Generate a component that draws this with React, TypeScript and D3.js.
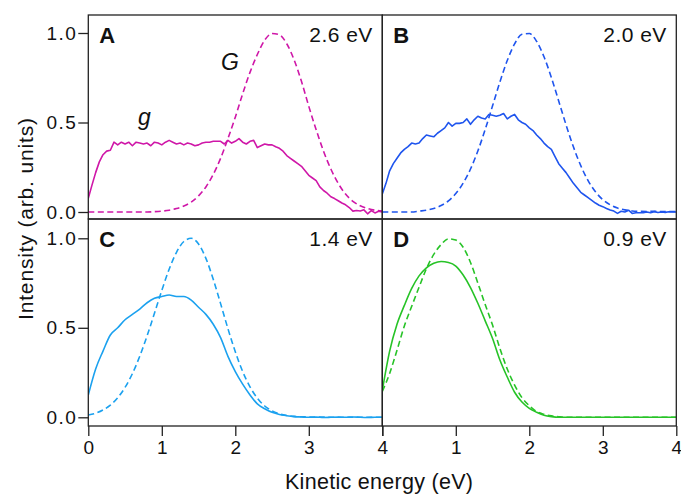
import React, { useEffect, useRef } from 'react'
import * as d3 from 'd3'

// kinetic energy grids (eV)
const energyFine = d3.range(81).map(i => +(i * 0.05).toFixed(2))
const energyCoarse = d3.range(41).map(i => +(i * 0.1).toFixed(1))

// measured electron distributions g (solid) and G (dashed)
const gA = [
  0.077, 0.15, 0.22, 0.28, 0.32, 0.34, 0.345, 0.39, 0.375, 0.39,
  0.38, 0.39, 0.37, 0.39, 0.385, 0.38, 0.385, 0.37, 0.39, 0.385,
  0.375, 0.39, 0.40, 0.39, 0.38, 0.385, 0.375, 0.385, 0.38, 0.37,
  0.375, 0.385, 0.39, 0.39, 0.395, 0.395, 0.395, 0.38, 0.40, 0.385,
  0.395, 0.41, 0.39, 0.38, 0.395, 0.40, 0.36, 0.37, 0.38, 0.375,
  0.375, 0.365, 0.356, 0.34, 0.315, 0.30, 0.285, 0.27, 0.255, 0.23,
  0.205, 0.19, 0.175, 0.14, 0.12, 0.105, 0.085, 0.075, 0.063, 0.05,
  0.04, 0.025, 0.005, 0.008, 0.006, 0.012, -0.01, 0.008, -0.005, 0.004,
  0.0
]
const GA = [
  0, 0, 0, 0, 0, 0, 0, 0, 0, 0.002,
  0.005, 0.01, 0.019, 0.033, 0.055, 0.09, 0.14, 0.21, 0.30, 0.41,
  0.53, 0.66, 0.78, 0.88, 0.96, 0.997, 0.99, 0.94, 0.85, 0.73,
  0.59, 0.46, 0.34, 0.24, 0.16, 0.10, 0.06, 0.035, 0.02, 0.01,
  0.005
]
const gB = [
  0.10, 0.16, 0.23, 0.27, 0.30, 0.33, 0.35, 0.365, 0.385, 0.38,
  0.385, 0.41, 0.43, 0.425, 0.42, 0.44, 0.455, 0.47, 0.50, 0.48,
  0.495, 0.495, 0.50, 0.52, 0.49, 0.515, 0.535, 0.525, 0.52, 0.545,
  0.54, 0.535, 0.54, 0.55, 0.52, 0.535, 0.545, 0.515, 0.50, 0.49,
  0.47, 0.455, 0.43, 0.41, 0.385, 0.365, 0.35, 0.31, 0.27, 0.245,
  0.22, 0.19, 0.16, 0.135, 0.11, 0.095, 0.08, 0.065, 0.05, 0.038,
  0.03, 0.02, 0.011, 0.005, -0.008, 0.004, 0.0, 0.01, -0.008, -0.004,
  -0.004, -0.004, 0.0, -0.004, 0.002, -0.003, 0.0, -0.002, 0.001, 0.0,
  0.0
]
const GB = [
  0, 0, 0, 0, 0, 0.005, 0.01, 0.02, 0.036, 0.062,
  0.103, 0.161, 0.24, 0.341, 0.461, 0.593, 0.726, 0.846, 0.939, 0.993,
  0.997, 0.953, 0.867, 0.752, 0.62, 0.487, 0.364, 0.259, 0.175, 0.113,
  0.069, 0.04, 0.022, 0.012, 0.006, 0.004, 0.003, 0.004, 0.002, 0.003,
  0.002
]
const gC = [
  0.125, 0.27, 0.37, 0.46, 0.50, 0.545, 0.575, 0.605, 0.64, 0.665,
  0.675, 0.683, 0.675, 0.675, 0.655, 0.615, 0.575, 0.52, 0.445, 0.34,
  0.255, 0.185, 0.125, 0.075, 0.048, 0.028, 0.016, 0.009, 0.004, 0.002,
  0.0, 0.001, -0.001, 0.0, 0.001, 0.0, 0.002, 0.0, -0.001, 0.0,
  0.0
]
const GC = [
  0.013, 0.023, 0.041, 0.068, 0.109, 0.167, 0.244, 0.341, 0.455, 0.581,
  0.709, 0.827, 0.922, 0.982, 1.0, 0.968, 0.888, 0.771, 0.635, 0.495,
  0.366, 0.256, 0.17, 0.107, 0.063, 0.036, 0.019, 0.01, 0.005, 0.003,
  0.002, 0.001, 0.001, 0.0, 0.0, 0.0, 0.0, 0.0, 0.0, 0.0,
  0.0
]
const gD = [
  0.15, 0.37, 0.52, 0.625, 0.72, 0.79, 0.835, 0.86, 0.87, 0.865,
  0.845, 0.795, 0.725, 0.637, 0.539, 0.44, 0.32, 0.225, 0.14, 0.085,
  0.05, 0.028, 0.012, 0.004, 0, 0, 0, 0, 0, 0,
  0, 0, 0, 0, 0, 0, 0, 0, 0, 0,
  0
]
const GD = [
  0.145, 0.245, 0.375, 0.51, 0.62, 0.727, 0.83, 0.91, 0.965, 0.997,
  0.99, 0.95, 0.865, 0.75, 0.63, 0.515, 0.385, 0.27, 0.18, 0.11,
  0.065, 0.032, 0.017, 0.008, 0.003, 0, 0, 0, 0, 0,
  0, 0, 0, 0, 0, 0, 0, 0, 0, 0,
  0
]

const panelKeys = ['A', 'B', 'C', 'D']
const photonEnergies = ['2.6 eV', '2.0 eV', '1.4 eV', '0.9 eV']
const panelColors = ['#cf17a8', '#1f55ee', '#1ba1ef', '#27c327']
const solidSeries = [gA, gB, gC, gD]
const dashedSeries = [GA, GB, GC, GD]
const yTicks = [0, 0.5, 1]
const xTicks = [0, 1, 2, 3, 4]

const FONT = '"Liberation Sans", Arial, Helvetica, sans-serif'

function App() {
  const ref = useRef<SVGSVGElement | null>(null)

  useEffect(() => {
    document.body.style.margin = '0'
    const svg = d3.select(ref.current)
    svg.selectAll('*').remove()

    const left = 88.3
    const panelWidth = 294
    const rows = [
      { top: 15, bottom: 219, zero: 212, one: 33 },
      { top: 219, bottom: 426, zero: 417.3, one: 238.3 }
    ]

    panelKeys.forEach((key, i) => {
      const row = rows[Math.floor(i / 2)]
      const col = i % 2
      const x0 = left + col * panelWidth
      const x = d3.scaleLinear().domain([0, 4]).range([x0, x0 + panelWidth])
      const y = d3.scaleLinear().domain([0, 1]).range([row.zero, row.one])
      const color = panelColors[i]

      const clipId = `clip-${key}`
      svg.append('clipPath').attr('id', clipId)
        .append('rect')
        .attr('x', x0).attr('y', row.top)
        .attr('width', panelWidth).attr('height', row.bottom - row.top)

      const g = svg.append('g').attr('clip-path', `url(#${clipId})`)

      const solidEnergy = solidSeries[i].length === 81 ? energyFine : energyCoarse
      const solidLine = d3.line<number>()
        .x((d, j) => x(solidEnergy[j]))
        .y(d => y(d))
        .curve(solidSeries[i].length === 81 ? d3.curveLinear : d3.curveMonotoneX)

      const dashedLine = d3.line<number>()
        .x((d, j) => x(energyCoarse[j]))
        .y(d => y(d))
        .curve(d3.curveMonotoneX)

      g.append('path')
        .datum(dashedSeries[i])
        .attr('d', dashedLine)
        .attr('fill', 'none')
        .attr('stroke', color)
        .attr('stroke-width', 1.6)
        .attr('stroke-dasharray', '6,3.5')

      g.append('path')
        .datum(solidSeries[i])
        .attr('d', solidLine)
        .attr('fill', 'none')
        .attr('stroke', color)
        .attr('stroke-width', 1.6)
        .attr('stroke-linejoin', 'round')

      // frame
      svg.append('rect')
        .attr('x', x0).attr('y', row.top)
        .attr('width', panelWidth).attr('height', row.bottom - row.top)
        .attr('fill', 'none')
        .attr('stroke', '#222')
        .attr('stroke-width', 1.3)

      // panel letter + photon energy
      svg.append('text')
        .attr('x', x0 + 11).attr('y', row.top + 27.5)
        .attr('font-family', FONT).attr('font-weight', 'bold').attr('font-size', 22)
        .attr('fill', '#111')
        .text(key)

      svg.append('text')
        .attr('x', x0 + panelWidth - 10).attr('y', row.top + 27)
        .attr('text-anchor', 'end')
        .attr('font-family', FONT).attr('font-size', 21)
        .attr('fill', '#111')
        .attr('textLength', 63).attr('lengthAdjust', 'spacing')
        .text(photonEnergies[i])

      if (col === 0) {
        const ax = svg.append('g')
          .attr('transform', `translate(${x0},0)`)
          .call(d3.axisLeft(y).tickValues(yTicks).tickSize(10).tickPadding(1).tickFormat(d3.format('.1f')))
        ax.select('.domain').remove()
        ax.selectAll('line').attr('stroke', '#222').attr('stroke-width', 1.3)
        ax.selectAll('text')
          .attr('font-family', FONT).attr('font-size', 19).attr('fill', '#111')
          .attr('letter-spacing', 1.5)
      }

      if (row.top > 100) {
        const ax = svg.append('g')
          .attr('transform', `translate(0,${row.bottom})`)
          .call(d3.axisBottom(x).tickValues(xTicks).tickSize(10).tickPadding(5))
        ax.select('.domain').remove()
        ax.selectAll('line').attr('stroke', '#222').attr('stroke-width', 1.3)
        ax.selectAll('text')
          .attr('font-family', FONT).attr('font-size', 19).attr('fill', '#111')
          .text(d => (col === 1 && d === 0 ? '' : String(d)))
      }
    })

    // curve labels in panel A
    svg.append('text')
      .attr('x', 138).attr('y', 125)
      .attr('font-family', FONT).attr('font-style', 'italic').attr('font-size', 23)
      .attr('fill', '#111')
      .text('g')
    svg.append('text')
      .attr('x', 221).attr('y', 70)
      .attr('font-family', FONT).attr('font-style', 'italic').attr('font-size', 23)
      .attr('fill', '#111')
      .text('G')

    // axis titles
    svg.append('text')
      .attr('x', 379).attr('y', 489)
      .attr('text-anchor', 'middle')
      .attr('font-family', FONT).attr('font-size', 21.5)
      .attr('fill', '#111')
      .attr('textLength', 188).attr('lengthAdjust', 'spacing')
      .text('Kinetic energy (eV)')

    svg.append('text')
      .attr('transform', 'translate(32.5,219) rotate(-90)')
      .attr('text-anchor', 'middle')
      .attr('font-family', FONT).attr('font-size', 21)
      .attr('fill', '#111')
      .attr('textLength', 202).attr('lengthAdjust', 'spacing')
      .text('Intensity (arb. units)')
  }, [])

  return (
    <svg ref={ref} width={681} height={494}
      style={{ position: 'absolute', left: 0, top: 0, background: '#fff' }} />
  )
}

export default App
